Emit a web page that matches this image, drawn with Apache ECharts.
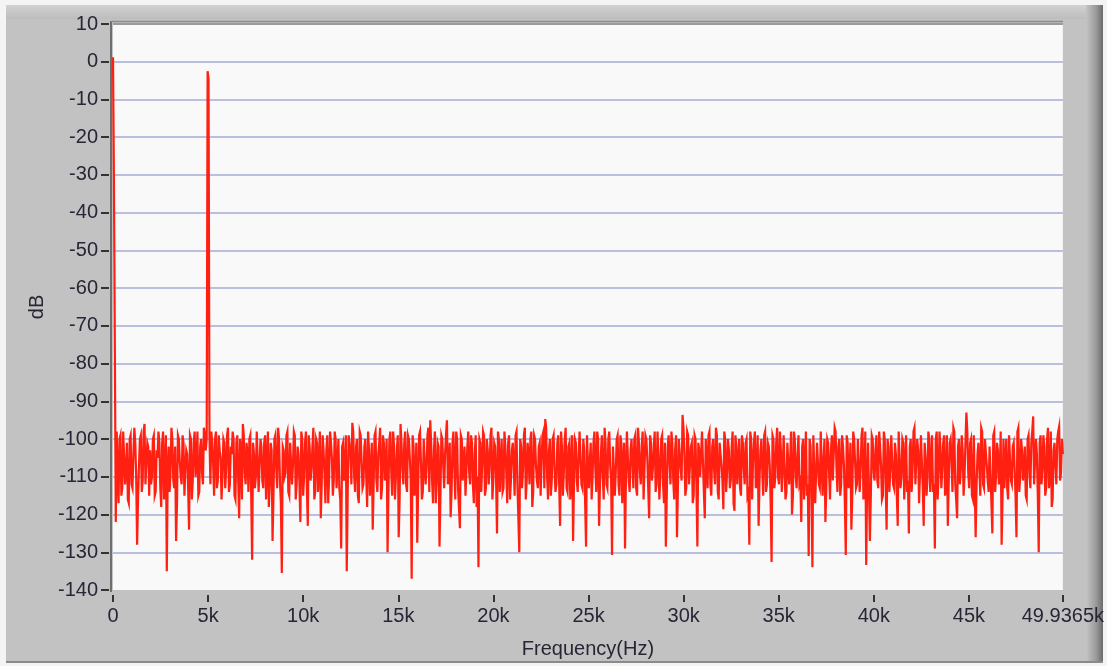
<!DOCTYPE html>
<html>
<head>
<meta charset="utf-8">
<script src="https://cdn.jsdelivr.net/npm/echarts@6/dist/echarts.min.js"></script>
<style>
html,body{margin:0;padding:0;background:#c2c2c2;}
#chart{width:1107px;height:666px;}
</style>
</head>
<body>
<div id="chart"></div>
<script>
// Frequency axis: 0 .. 49936.5 Hz, spectrum bins spaced evenly
const maxFreqHz = 49936.5;
const binCount = 1024;
const xTickLabels = ['0','5k','10k','15k','20k','25k','30k','35k','40k','45k','49.9365k'];
const yTicks = [10,0,-10,-20,-30,-40,-50,-60,-70,-80,-90,-100,-110,-120,-130,-140];

// Magnitude spectrum (dB).
// Even-numbered bins:
const dB_0 = [1.2,-31,-98,-117,-99,-113,-98,-108,-116,-100,-112,-104,-101,-128,-107,-99,-111,-96,-106,-102];
const dB_1 = [-103,-110,-99,-114,-105,-101,-118,-98,-107,-135,-102,-109,-100,-113,-127,-99,-106,-112,-101,-108];
const dB_2 = [-104,-124,-100,-111,-98,-106,-115,-102,-109,-97,-103,-2.5,-99,-98,-107,-100,-113,-99,-105,-110];
const dB_3 = [-101,-108,-97,-112,-104,-100,-116,-99,-121,-103,-96,-109,-101,-114,-99,-132,-104,-110,-98,-107];
const dB_4 = [-102,-113,-99,-106,-118,-101,-127,-100,-108,-97,-111,-135.5,-103,-109,-98,-115,-101,-107,-99,-112];
const dB_5 = [-104,-122,-100,-110,-98,-123,-102,-108,-97,-114,-101,-106,-121,-99,-109,-103,-117,-98,-105,-111];
const dB_6 = [-100,-107,-113,-129,-101,-109,-135,-99,-104,-95.7,-110,-102,-115,-98,-106,-112,-100,-118,-103,-108];
const dB_7 = [-124,-99,-111,-104,-97,-113,-101,-107,-130,-100,-109,-98,-116,-103,-126,-96,-108,-101,-112,-99];
const dB_8 = [-105,-137,-102,-110,-127.5,-99,-106,-114,-100,-108,-97,-95,-111,-103,-117,-101,-128.5,-99,-107,-104];
const dB_9 = [-95,-110,-120.7,-101,-108,-98,-113,-123.6,-100,-106,-115,-102,-109,-99,-112,-104,-118,-134,-101,-107];
const dB_10 = [-99,-113,-103,-108,-97,-111,-102,-125,-100,-106,-114,-98,-109,-101,-116,-103,-107,-99,-112,-130];
const dB_11 = [-102,-108,-97,-111,-104,-100,-118,-99,-107,-113,-101,-106,-98,-94.7,-110,-103,-115,-100,-108,-112];
const dB_12 = [-99,-123,-102,-109,-97,-114,-101,-107,-127,-100,-111,-104,-98,-113,-103,-128.5,-99,-106,-116,-101];
const dB_13 = [-108,-98,-123,-104,-110,-97,-112,-100,-107,-130.7,-102,-109,-99,-115,-101,-106,-129,-98,-111,-103];
const dB_14 = [-107,-100,-113,-97,-109,-102,-116,-99,-105,-121,-101,-108,-98,-112,-104,-110,-99,-117,-128.5,-102];
const dB_15 = [-106,-98,-111,-103,-126,-100,-108,-93.6,-104,-113,-99,-107,-101,-115,-100,-128.5,-103,-110,-98,-121];
const dB_16 = [-105,-99,-112,-102,-108,-97,-114,-101,-107,-118.6,-100,-109,-103,-111,-98,-119,-102,-106,-113,-99];
const dB_17 = [-108,-101,-115,-128,-100,-106,-98,-111,-123,-103,-109,-99,-114,-101,-107,-132.6,-100,-110,-97,-112];
const dB_18 = [-103,-108,-99,-114,-101,-106,-120,-98,-110,-104,-112,-122,-100,-107,-115,-131,-102,-134,-99,-109];
const dB_19 = [-101,-113,-98,-106,-122,-100,-109,-103,-111,-97,-108,-102,-115,-99,-107,-130.7,-101,-110,-124,-98];
const dB_20 = [-106,-112,-100,-108,-97,-114,-133.4,-101,-127,-99,-109,-103,-111,-98,-107,-115,-100,-124,-102,-108];
const dB_21 = [-99,-113,-104,-123,-98,-110,-101,-107,-114,-125,-100,-108,-97,-112,-103,-109,-99,-123,-105,-111];
const dB_22 = [-100,-107,-114,-129,-98,-110,-102,-108,-99,-113,-123,-101,-106,-97,-112,-121,-100,-108,-103,-110];
const dB_23 = [-93,-109,-101,-115,-99,-126,-104,-108,-97,-112,-100,-107,-114,-102,-125,-98,-110,-103,-109,-128];
const dB_24 = [-100,-106,-113,-99,-111,-102,-108,-126,-97,-110,-103,-107,-115,-100,-109,-101,-94,-112,-104,-130];
const dB_25 = [-99,-108,-102,-113,-97,-110,-118,-103,-107,-100,-96.7,-109,-104];

// Odd-numbered bins (between the even ones above):
const odd_0 = [-31,-122,-110,-100,-115,-98,-112,-101,-117,-99,-113,-97,-110,-116,-100,-114,-98,-112,-101,-115];
const odd_1 = [-112,-100,-115,-103,-98,-113,-101,-116,-99,-108,-114,-97,-111,-102,-117,-100,-110,-99,-115,-103];
const odd_2 = [-113,-99,-116,-101,-110,-98,-114,-100,-112,-99,-100,-4.5,-112,-101,-115,-98,-111,-103,-116,-100];
const odd_3 = [-113,-99,-114,-102,-98,-115,-101,-111,-100,-116,-99,-112,-104,-100,-115,-101,-113,-98,-114,-100];
const odd_4 = [-111,-101,-116,-98,-112,-103,-115,-99,-113,-100,-117,-102,-110,-99,-114,-101,-112,-98,-116,-102];
const odd_5 = [-112,-98,-115,-101,-113,-99,-111,-102,-116,-100,-114,-98,-112,-103,-117,-99,-110,-101,-115,-98];
const odd_6 = [-113,-100,-116,-102,-111,-99,-115,-101,-112,-98,-114,-100,-117,-99,-113,-102,-110,-98,-115,-101];
const odd_7 = [-112,-98,-114,-101,-116,-99,-111,-100,-113,-98,-115,-102,-110,-99,-116,-101,-112,-98,-114,-100];
const odd_8 = [-111,-99,-115,-101,-113,-98,-116,-100,-112,-99,-114,-101,-117,-98,-111,-102,-115,-100,-113,-99];
const odd_9 = [-112,-101,-114,-98,-116,-100,-113,-99,-111,-102,-115,-98,-112,-101,-117,-99,-110,-100,-114,-98];
const odd_10 = [-115,-100,-112,-99,-116,-101,-111,-98,-114,-100,-113,-102,-117,-99,-111,-101,-115,-98,-112,-100];
const odd_11 = [-113,-99,-116,-101,-112,-98,-114,-100,-111,-102,-115,-99,-113,-97,-116,-100,-111,-99,-114,-101];
const odd_12 = [-112,-98,-115,-100,-113,-102,-116,-99,-111,-101,-114,-98,-112,-100,-117,-99,-113,-101,-110,-98];
const odd_13 = [-114,-100,-112,-99,-116,-101,-113,-98,-111,-102,-115,-100,-112,-99,-117,-101,-110,-98,-114,-100];
const odd_14 = [-113,-99,-115,-101,-112,-98,-116,-100,-113,-99,-111,-102,-114,-98,-116,-100,-112,-101,-115,-99];
const odd_15 = [-112,-101,-116,-99,-113,-100,-111,-97,-115,-98,-112,-102,-117,-99,-113,-101,-110,-98,-114,-100];
const odd_16 = [-113,-98,-115,-100,-112,-99,-116,-101,-111,-98,-114,-100,-113,-102,-117,-99,-112,-100,-115,-101];
const odd_17 = [-112,-100,-114,-98,-116,-101,-113,-99,-111,-100,-115,-98,-112,-102,-117,-99,-113,-101,-110,-98];
const odd_18 = [-114,-99,-116,-101,-112,-98,-115,-100,-113,-99,-111,-102,-116,-98,-112,-100,-114,-99,-117,-101];
const odd_19 = [-112,-98,-115,-100,-113,-101,-116,-99,-111,-98,-114,-100,-112,-102,-117,-99,-113,-101,-115,-100];
const odd_20 = [-113,-100,-114,-99,-116,-98,-112,-101,-115,-100,-111,-99,-113,-102,-116,-98,-112,-100,-114,-99];
const odd_21 = [-112,-101,-115,-98,-113,-100,-116,-99,-111,-102,-114,-98,-112,-100,-117,-99,-113,-101,-115,-98];
const odd_22 = [-114,-99,-112,-100,-116,-98,-113,-101,-115,-99,-111,-100,-114,-98,-116,-102,-112,-99,-115,-101];
const odd_23 = [-98,-113,-100,-116,-99,-112,-101,-115,-98,-113,-100,-111,-102,-117,-99,-114,-101,-112,-98,-115];
const odd_24 = [-113,-100,-116,-99,-112,-101,-115,-98,-114,-100,-111,-102,-116,-99,-113,-98,-112,-100,-115,-101];
const odd_25 = [-112,-99,-115,-100,-113,-98,-116,-101,-112,-98,-111,-100];

const evenBins = [].concat(dB_0,dB_1,dB_2,dB_3,dB_4,dB_5,dB_6,dB_7,dB_8,dB_9,dB_10,dB_11,dB_12,
  dB_13,dB_14,dB_15,dB_16,dB_17,dB_18,dB_19,dB_20,dB_21,dB_22,dB_23,dB_24,dB_25);
const oddBins = [].concat(odd_0,odd_1,odd_2,odd_3,odd_4,odd_5,odd_6,odd_7,odd_8,odd_9,odd_10,odd_11,odd_12,
  odd_13,odd_14,odd_15,odd_16,odd_17,odd_18,odd_19,odd_20,odd_21,odd_22,odd_23,odd_24,odd_25);

const spectrumDb = [];
for (let i = 0; i < evenBins.length; i++) {
  spectrumDb.push(evenBins[i]);
  if (i < oddBins.length) spectrumDb.push(oddBins[i]);
}

const binHz = maxFreqHz / binCount;
const seriesData = spectrumDb.map((v, i) => [i * binHz, v]);

const textColor = '#262636';
const font = 'Liberation Sans, Arial, sans-serif';

const gridColors = yTicks.slice().reverse().map((v) => {
  if (v === -140) return 'rgba(0,0,0,0)';
  if (v === 10) return '#9a9a9a';
  return '#b9bfdc';
});

const chart = echarts.init(document.getElementById('chart'), null, {renderer: 'canvas'});
chart.setOption({
  animation: false,
  backgroundColor: '#c2c2c2',
  graphic: [
    {type: 'rect', z: -10, shape: {x: 0, y: 0, width: 1107, height: 5}, style: {fill: '#f4f4f4'}},
    {type: 'rect', z: -10, shape: {x: 0, y: 0, width: 6, height: 666}, style: {fill: '#f4f4f4'}},
    {type: 'rect', z: -10, shape: {x: 6, y: 5, width: 1080, height: 14},
      style: {fill: new echarts.graphic.LinearGradient(0,0,0,1,[{offset:0,color:'#d2d2d2'},{offset:1,color:'#bdbdbd'}])}},
    {type: 'rect', z: -10, shape: {x: 1086, y: 5, width: 17, height: 657},
      style: {fill: new echarts.graphic.LinearGradient(0,0,1,0,[{offset:0,color:'#c4c4c4'},{offset:0.6,color:'#9a9a9a'},{offset:1,color:'#6a6a6a'}])}},
    {type: 'rect', z: -10, shape: {x: 1103, y: 0, width: 4, height: 666}, style: {fill: '#f4f4f4'}},
    {type: 'rect', z: -10, shape: {x: 6, y: 661, width: 1097, height: 2}, style: {fill: '#8a8a8a'}},
    {type: 'rect', z: -10, shape: {x: 0, y: 663, width: 1107, height: 3}, style: {fill: '#f4f4f4'}},
    {type: 'line', z: 10, shape: {x1: 111, y1: 21, x2: 111, y2: 592}, style: {stroke: '#6e6e6e', lineWidth: 2}},
    {type: 'line', z: 10, shape: {x1: 111, y1: 21.5, x2: 1063, y2: 21.5}, style: {stroke: '#8c8c8c', lineWidth: 1.5}}
  ],
  grid: {
    left: 113, right: 44, top: 24, bottom: 76,
    show: true, backgroundColor: '#f9f9f9', borderWidth: 0
  },
  xAxis: {
    type: 'value', min: 0, max: maxFreqHz, interval: 5000,
    offset: 5,
    name: 'Frequency(Hz)', nameLocation: 'middle', nameGap: 44,
    nameTextStyle: {color: textColor, fontSize: 20, fontFamily: font},
    axisLine: {show: false, onZero: false},
    axisTick: {show: true, length: 7, lineStyle: {color: '#333', width: 2}},
    axisLabel: {
      color: textColor, fontSize: 20, fontFamily: font, margin: 11,
      showMaxLabel: true, showMinLabel: true,
      formatter: (v) => {
        if (Math.abs(v - maxFreqHz) < 1e-6) return xTickLabels[xTickLabels.length - 1];
        const idx = Math.round(v / 5000);
        return xTickLabels[idx];
      }
    },
    splitLine: {show: false}
  },
  yAxis: {
    type: 'value', min: -140, max: 10, interval: 10,
    offset: 4,
    name: 'dB', nameLocation: 'middle', nameGap: 62, nameRotate: 90,
    nameTextStyle: {color: textColor, fontSize: 20, fontFamily: font},
    axisLine: {show: false, onZero: false},
    axisTick: {show: true, length: 8, lineStyle: {color: '#333', width: 2}},
    axisLabel: {color: textColor, fontSize: 20, fontFamily: font, margin: 11,
      formatter: (v) => String(v)},
    splitLine: {show: true, lineStyle: {color: gridColors, width: 2}}
  },
  series: [{
    type: 'line',
    data: seriesData,
    showSymbol: false,
    symbol: 'none',
    lineStyle: {color: '#ff2012', width: 2.2, join: 'miter'},
    clip: true
  }]
});
</script>
</body>
</html>
